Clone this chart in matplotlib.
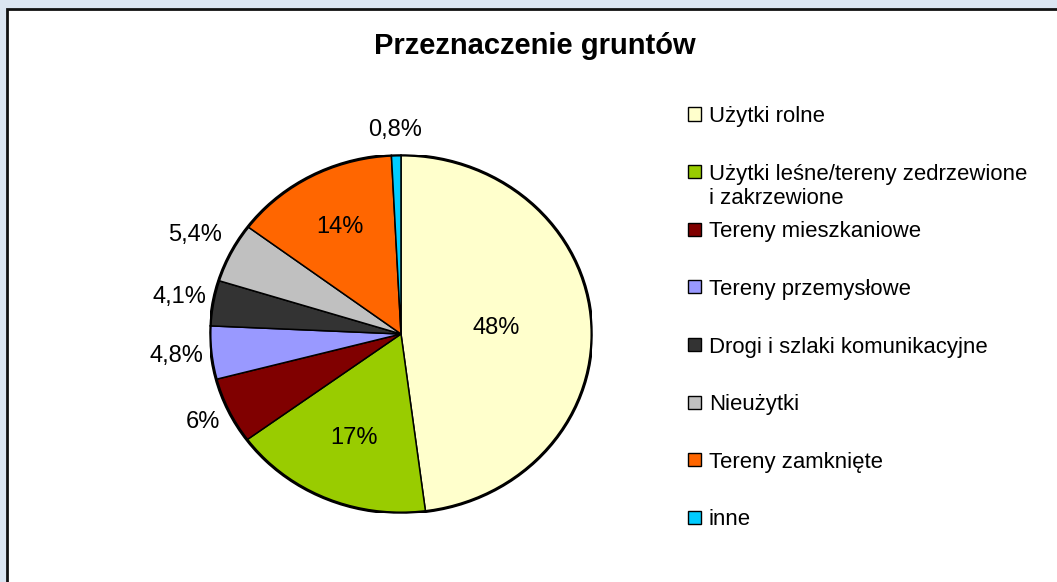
import matplotlib
matplotlib.use("Agg")
import matplotlib.pyplot as plt
from matplotlib.patches import Rectangle, Ellipse
import numpy as np

plt.rcParams['font.family'] = ['Liberation Sans', 'DejaVu Sans']

title = "Przeznaczenie gruntów"
categories = ["Użytki rolne",
              "Użytki leśne/tereny zedrzewione\ni zakrzewione",
              "Tereny mieszkaniowe",
              "Tereny przemysłowe",
              "Drogi i szlaki komunikacyjne",
              "Nieużytki",
              "Tereny zamknięte",
              "inne"]
values = [48, 17, 6, 4.8, 4.1, 5.4, 14, 0.8]
value_labels = ["48%", "17%", "6%", "4,8%", "4,1%", "5,4%", "14%", "0,8%"]
colors = ["#FFFFCC", "#99CC00", "#800000", "#9999FF",
          "#333333", "#C0C0C0", "#FF6600", "#00CCFF"]
# label radial distances (styling)
label_r = [0.50, 0.63, 1.15, 1.18, 1.18, 1.21, 0.68, 1.14]

W, H = 1057, 582
fig = plt.figure(figsize=(W / 100, H / 100), dpi=100)
fig.patch.set_facecolor("#DBE5F1")

def fx(x):
    return x / W

def fy(y):
    return 1 - y / H

# white chart area with border
fig.patches.append(Rectangle((fx(7), -0.05), 1.1, fy(9) + 0.05, transform=fig.transFigure,
                             facecolor="white", edgecolor="#111111", linewidth=2.0, zorder=-5))

# title
fig.text(fx(535), fy(46), title, ha="center", va="center",
         fontsize=21, fontweight="bold", color="black")

# pie axes
cx, cy, rx, ry = 401, 334, 191, 179
ax = fig.add_axes([fx(cx - rx), fy(cy + ry), 2 * rx / W, 2 * ry / H])
ax.set_zorder(2)
wedges, _ = ax.pie(values, colors=colors, startangle=90, counterclock=False,
                   radius=1, wedgeprops=dict(edgecolor="black", linewidth=1.1))
ax.add_patch(Ellipse((0, 0), 2, 2, fill=False, edgecolor="black", linewidth=2.2, zorder=5))
ax.set_aspect("auto")
ax.set_xlim(-1, 1)
ax.set_ylim(-1, 1)
ax.axis("off")

for w, lab, r in zip(wedges, value_labels, label_r):
    th = np.deg2rad((w.theta1 + w.theta2) / 2)
    ax.text(r * np.cos(th), r * np.sin(th), lab, ha="center", va="center",
            fontsize=17, color="black", clip_on=False)

# legend
y0, dy = 114, 57.63
for i, (cat, col) in enumerate(zip(categories, colors)):
    yc = y0 + dy * i
    fig.patches.append(Rectangle((fx(688), fy(yc + 6.5)), 13 / W, 13 / H,
                                 transform=fig.transFigure, facecolor=col,
                                 edgecolor="black", linewidth=1.0, zorder=3))
    for k, line in enumerate(cat.split("\n")):
        fig.text(fx(709), fy(yc + 8 + 24 * k), line, ha="left", va="baseline",
                 fontsize=15.9, color="black")

fig.savefig("out.png", dpi=100, facecolor=fig.get_facecolor())
